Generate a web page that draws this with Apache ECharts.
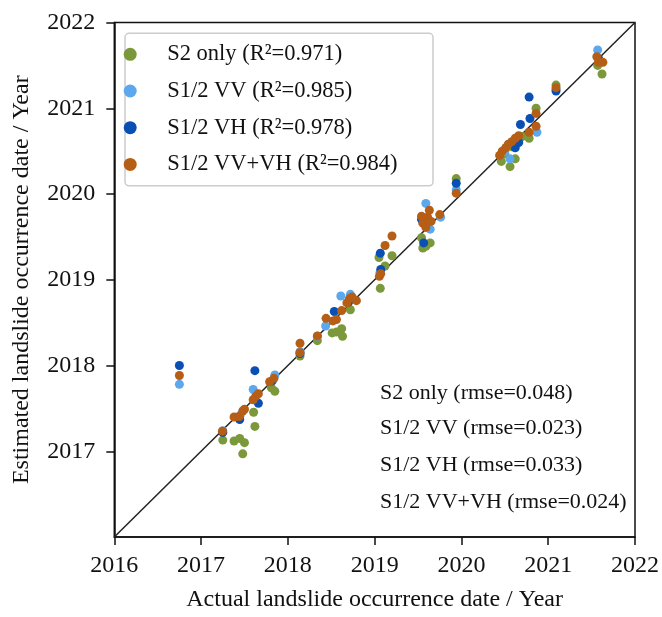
<!DOCTYPE html>
<html>
<head>
<meta charset="utf-8">
<script src="https://cdn.jsdelivr.net/npm/echarts@6/dist/echarts.min.js"></script>
<style>
html,body{margin:0;padding:0;background:#fff;}
#chart{width:662px;height:617px;}
</style>
</head>
<body>
<div id="chart"></div>
<script>
// [actual date, estimated date]
var s2Only = [[2017.25,2017.13],[2017.38,2017.12],[2017.445,2017.15],[2017.50,2017.10],[2017.48,2016.97],[2017.605,2017.455],[2017.62,2017.29],[2017.81,2017.74],[2017.85,2017.70],[2018.14,2018.11],[2018.34,2018.29],[2018.51,2018.38],[2018.56,2018.39],[2018.62,2018.43],[2018.63,2018.34],[2018.72,2018.65],[2019.065,2018.90],[2019.05,2019.26],[2019.12,2019.16],[2019.20,2019.28],[2019.54,2019.49],[2019.555,2019.37],[2019.59,2019.39],[2019.64,2019.43],[2019.94,2020.18],[2020.46,2020.38],[2020.56,2020.32],[2020.62,2020.41],[2020.50,2020.47],[2020.58,2020.55],[2020.70,2020.67],[2020.78,2020.65],[2020.86,2021.00],[2021.09,2021.27],[2021.57,2021.50],[2021.62,2021.40]];
var s12VV = [[2016.75,2017.78],[2017.25,2017.24],[2017.45,2017.42],[2017.60,2017.72],[2017.85,2017.89],[2018.14,2018.16],[2018.34,2018.34],[2018.435,2018.46],[2018.61,2018.81],[2018.72,2018.83],[2019.06,2019.08],[2019.59,2019.89],[2019.64,2019.59],[2019.76,2019.73],[2019.94,2020.05],[2020.50,2020.50],[2020.56,2020.41],[2020.87,2020.72],[2021.09,2021.22],[2021.57,2021.68]];
var s12VH = [[2016.75,2018.00],[2017.25,2017.22],[2017.445,2017.37],[2017.62,2017.94],[2017.66,2017.56],[2017.82,2017.82],[2018.14,2018.14],[2018.535,2018.63],[2018.70,2018.74],[2019.07,2019.12],[2019.065,2019.31],[2019.565,2019.43],[2019.54,2019.705],[2019.94,2020.125],[2020.62,2020.54],[2020.66,2020.60],[2020.68,2020.81],[2020.78,2021.13],[2020.79,2020.88],[2021.09,2021.20],[2021.58,2021.58]];
var s12VVVH = [[2016.75,2017.884],[2017.246,2017.234],[2017.38,2017.40],[2017.44,2017.405],[2017.48,2017.47],[2017.50,2017.49],[2017.60,2017.60],[2017.63,2017.64],[2017.66,2017.67],[2017.79,2017.81],[2017.84,2017.85],[2018.14,2018.26],[2018.14,2018.15],[2018.34,2018.345],[2018.44,2018.55],[2018.52,2018.52],[2018.56,2018.535],[2018.62,2018.64],[2018.68,2018.73],[2018.71,2018.78],[2018.74,2018.80],[2018.79,2018.756],[2019.055,2019.04],[2019.07,2019.07],[2019.12,2019.40],[2019.20,2019.51],[2019.54,2019.74],[2019.555,2019.66],[2019.59,2019.61],[2019.61,2019.73],[2019.63,2019.81],[2019.65,2019.68],[2019.75,2019.76],[2019.94,2020.01],[2020.44,2020.45],[2020.47,2020.50],[2020.51,2020.54],[2020.54,2020.58],[2020.58,2020.61],[2020.62,2020.65],[2020.66,2020.68],[2020.78,2020.72],[2020.86,2020.94],[2020.86,2020.79],[2021.09,2021.24],[2021.56,2021.60],[2021.63,2021.535],[2021.58,2021.535]];
var oneToOne = [[2016,2016],[2022,2022]];
var seriesNames = ['S2 only (R\u00b2=0.971)','S1/2 VV (R\u00b2=0.985)','S1/2 VH (R\u00b2=0.978)','S1/2 VV+VH (R\u00b2=0.984)'];
var rmseLabels = ['S2 only (rmse=0.048)','S1/2 VV (rmse=0.023)','S1/2 VH (rmse=0.033)','S1/2 VV+VH (rmse=0.024)'];
var colors = ['#7b983a','#5ba8ee','#0a4fb4','#b65d16'];

var FONT = '"Liberation Serif","Times New Roman",serif';
var chart = echarts.init(document.getElementById('chart'), null, {renderer:'canvas'});
var dataSets = [s2Only, s12VV, s12VH, s12VVVH];
var series = [{
  type:'line', data: oneToOne, symbol:'none', silent:true,
  lineStyle:{color:'#222', width:1.5}, z:1
}];
dataSets.forEach(function(d,i){
  series.push({
    name: seriesNames[i], type:'scatter', data:d, symbol:'circle', symbolSize:9,
    itemStyle:{color:colors[i], opacity:1}, z:2+i
  });
});
var graphics = [{
  type:'rect', shape:{x:125, y:33.3, width:308, height:152.5, r:4},
  style:{fill:'rgba(255,255,255,0.8)', stroke:'#cccccc', lineWidth:1.5}, z:5
}];
var rmseY = [392.3, 427.7, 464.3, 501.7];
rmseLabels.forEach(function(t,i){
  graphics.push({type:'text', left:380, top:rmseY[i]-10, z:10,
    style:{text:t, font:'22px ' + FONT, fill:'#111', textVerticalAlign:'top'}});
});
function plain(v){ return String(v); }
chart.setOption({
  backgroundColor:'#fff',
  animation:false,
  grid:{left:114.3, top:22.5, width:521.7, height:522.5, show:true, borderColor:'#111', borderWidth:1.5, backgroundColor:'transparent'},
  legend:{
    data: seriesNames, orient:'vertical', left:123.7, top:42.3, padding:0,
    icon:'circle', itemWidth:64, itemHeight:13, itemGap:12.7,
    textStyle:{fontFamily:FONT, fontSize:22.5, color:'#111', lineHeight:24},
    selectedMode:false, z:6
  },
  xAxis:{
    type:'value', min:2016, max:2022, interval:1,
    name:'Actual landslide occurrence date / Year', nameLocation:'middle', nameGap:51,
    nameTextStyle:{fontFamily:FONT, fontSize:24, color:'#111'},
    axisLine:{show:true, lineStyle:{color:'#111', width:1.5}},
    axisTick:{show:true, length:8, lineStyle:{color:'#111', width:1.5}},
    axisLabel:{fontFamily:FONT, fontSize:24, color:'#111', margin:17, formatter:plain},
    splitLine:{show:false}
  },
  yAxis:{
    type:'value', min:2016, max:2022, interval:1,
    name:'Estimated landslide occurrence date / Year', nameLocation:'middle', nameGap:81,
    nameTextStyle:{fontFamily:FONT, fontSize:24, color:'#111'},
    axisLine:{show:true, lineStyle:{color:'#111', width:1.5}},
    axisTick:{show:true, length:8, lineStyle:{color:'#111', width:1.5}},
    axisLabel:{fontFamily:FONT, fontSize:24, color:'#111', margin:19, showMinLabel:false, formatter:plain},
    splitLine:{show:false}
  },
  series: series,
  graphic: graphics
});
</script>
</body>
</html>
